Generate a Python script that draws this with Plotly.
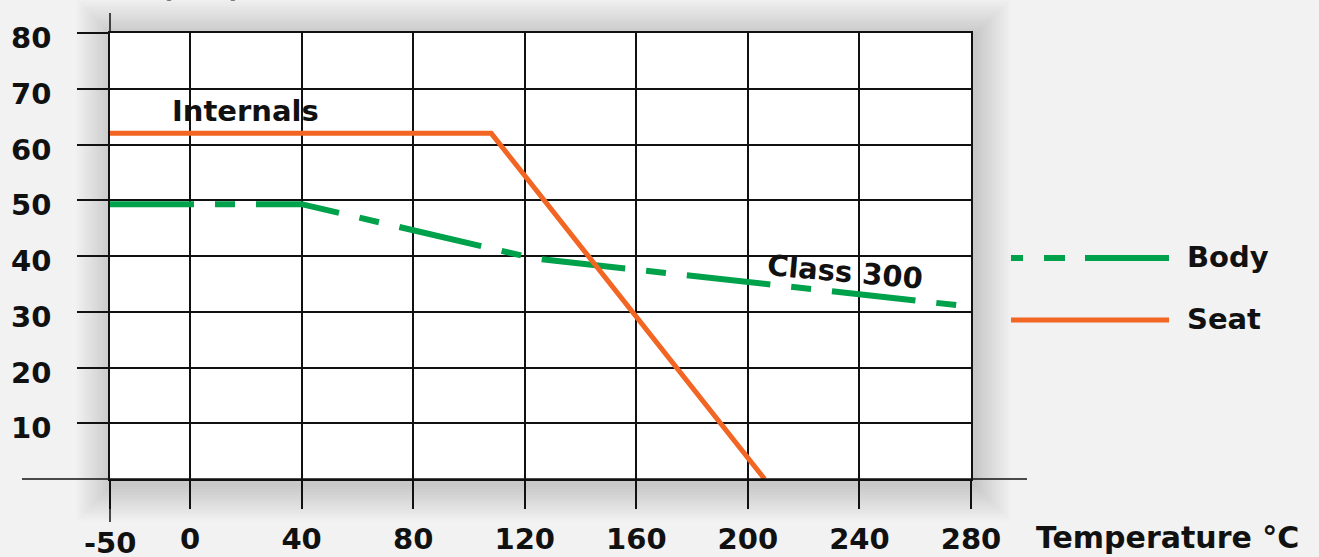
import plotly.graph_objects as go

# ---- data ----
x_tick_labels = [-50, 0, 40, 80, 120, 160, 200, 240, 280]
y_tick_labels = [10, 20, 30, 40, 50, 60, 70, 80]

body_temp = [-50, 40, 123, 280]
body_pressure = [49.3, 49.3, 39.6, 30.9]

seat_temp = [-50, 108, 206]
seat_pressure = [62, 62, 0]

# The chart's axis is compressed below 0 °C (the -50 segment is shorter)
NEG_SCALE = 0.5737


def to_axis(t):
    return t if t >= 0 else t * NEG_SCALE


GREEN = "#00a14b"
ORANGE = "#f26522"
INK = "#111111"
FONT = "'DejaVu Sans', sans-serif"
FS = 29

# plot area in pixels
W, H = 1319, 557
L, R, T, B = 110, 971, 33, 479
PW, PH = R - L, B - T


def px(xp):
    return (xp - L) / PW


def py(yp):
    return (B - yp) / PH


fig = go.Figure()
fig.add_trace(go.Scatter(
    x=[to_axis(t) for t in body_temp], y=body_pressure, mode="lines", name="Body",
    line=dict(color=GREEN, width=6, dash="84px,21px,20px,21px"), showlegend=False,
))
fig.add_trace(go.Scatter(
    x=[to_axis(t) for t in seat_temp], y=seat_pressure, mode="lines", name="Seat",
    line=dict(color=ORANGE, width=5), showlegend=False,
))

shapes = []
# soft shadow around the plot area
for i in range(14):
    e = 3 + i * 2.6
    shapes.append(dict(type="rect", xref="paper", yref="paper", layer="below",
                       x0=px(L - e + 3), x1=px(R + e + 3), y0=py(B + e + 5), y1=py(T - e + 3),
                       line=dict(width=0), fillcolor="rgba(0,0,0,0.011)"))
# white plot area
shapes.append(dict(type="rect", xref="paper", yref="paper", layer="below",
                   x0=0, x1=1, y0=0, y1=1, line=dict(width=0), fillcolor="white"))
# extended axis lines
shapes.append(dict(type="line", xref="paper", yref="paper", x0=px(22), x1=px(1027), y0=0, y1=0,
                   line=dict(color=INK, width=1.5)))
shapes.append(dict(type="line", xref="paper", yref="paper", x0=0, x1=0, y0=1, y1=py(13),
                   line=dict(color=INK, width=1.5)))
shapes.append(dict(type="line", xref="paper", yref="paper", x0=0, x1=0, y0=0, y1=py(522),
                   line=dict(color=INK, width=1.5)))
# legend samples
shapes.append(dict(type="line", xref="paper", yref="paper", x0=px(1011), x1=px(1169),
                   y0=py(258), y1=py(258),
                   line=dict(color=GREEN, width=6, dash="12px,21px,21px,20px,84px")))
shapes.append(dict(type="line", xref="paper", yref="paper", x0=px(1011), x1=px(1169),
                   y0=py(320), y1=py(320), line=dict(color=ORANGE, width=5)))

font = dict(family=FONT, size=FS, color=INK, weight="bold")
annotations = [
    dict(text="Internals", x=20, y=66, xref="x", yref="y", showarrow=False, font=font),
    dict(text="Class 300", x=235, y=37.1, xref="x", yref="y", showarrow=False, font=font,
         textangle=5),
    dict(text="Body", x=px(1185), y=py(257), xref="paper", yref="paper", xanchor="left",
         yanchor="middle", showarrow=False, font=font),
    dict(text="Seat", x=px(1185), y=py(319), xref="paper", yref="paper", xanchor="left",
         yanchor="middle", showarrow=False, font=font),
    dict(text="Temperature °C", x=px(1034), y=py(537), xref="paper", yref="paper",
         xanchor="left", yanchor="middle", showarrow=False,
         font=dict(family=FONT, size=30, color=INK, weight="bold")),
    dict(text="-50", x=0, y=py(543), xref="paper", yref="paper", xanchor="center",
         yanchor="middle", showarrow=False, font=font),
    dict(text="P (bar)", x=px(244), y=py(6), xref="paper", yref="paper", xanchor="right",
         yanchor="bottom", showarrow=False, font=font),
]

fig.update_layout(
    width=W, height=H,
    margin=dict(l=L, r=W - R, t=T, b=H - B, pad=0),
    paper_bgcolor="#f2f2f2", plot_bgcolor="rgba(0,0,0,0)",
    shapes=shapes, annotations=annotations, showlegend=False,
    font=dict(family=FONT, size=FS, color=INK),
)
fig.update_xaxes(
    range=[to_axis(-50), 280], automargin=False,
    tickmode="array",
    tickvals=[to_axis(t) for t in x_tick_labels],
    ticktext=["" if t < 0 else str(t) for t in x_tick_labels],
    showgrid=True, gridcolor=INK, gridwidth=1.5,
    showline=True, linecolor=INK, linewidth=1.5, mirror=True,
    ticks="outside", ticklen=28, tickcolor=INK, tickwidth=1.5,
    tickfont=font,
    ticklabelstandoff=5, zeroline=False,
)
fig.update_yaxes(
    range=[0, 80], automargin=False,
    tickmode="array", tickvals=y_tick_labels, ticktext=[str(v) for v in y_tick_labels],
    showgrid=True, gridcolor=INK, gridwidth=1.5,
    showline=True, linecolor=INK, linewidth=1.5, mirror=True,
    ticks="outside", ticklen=31, tickcolor=INK, tickwidth=1.5,
    tickfont=font,
    ticklabelstandoff=20, ticklabelshift=5, zeroline=False,
)

fig.write_html(
    "out.html",
    config={"displayModeBar": False},
    post_script="document.body.style.margin='0';document.body.style.overflow='hidden';",
)
